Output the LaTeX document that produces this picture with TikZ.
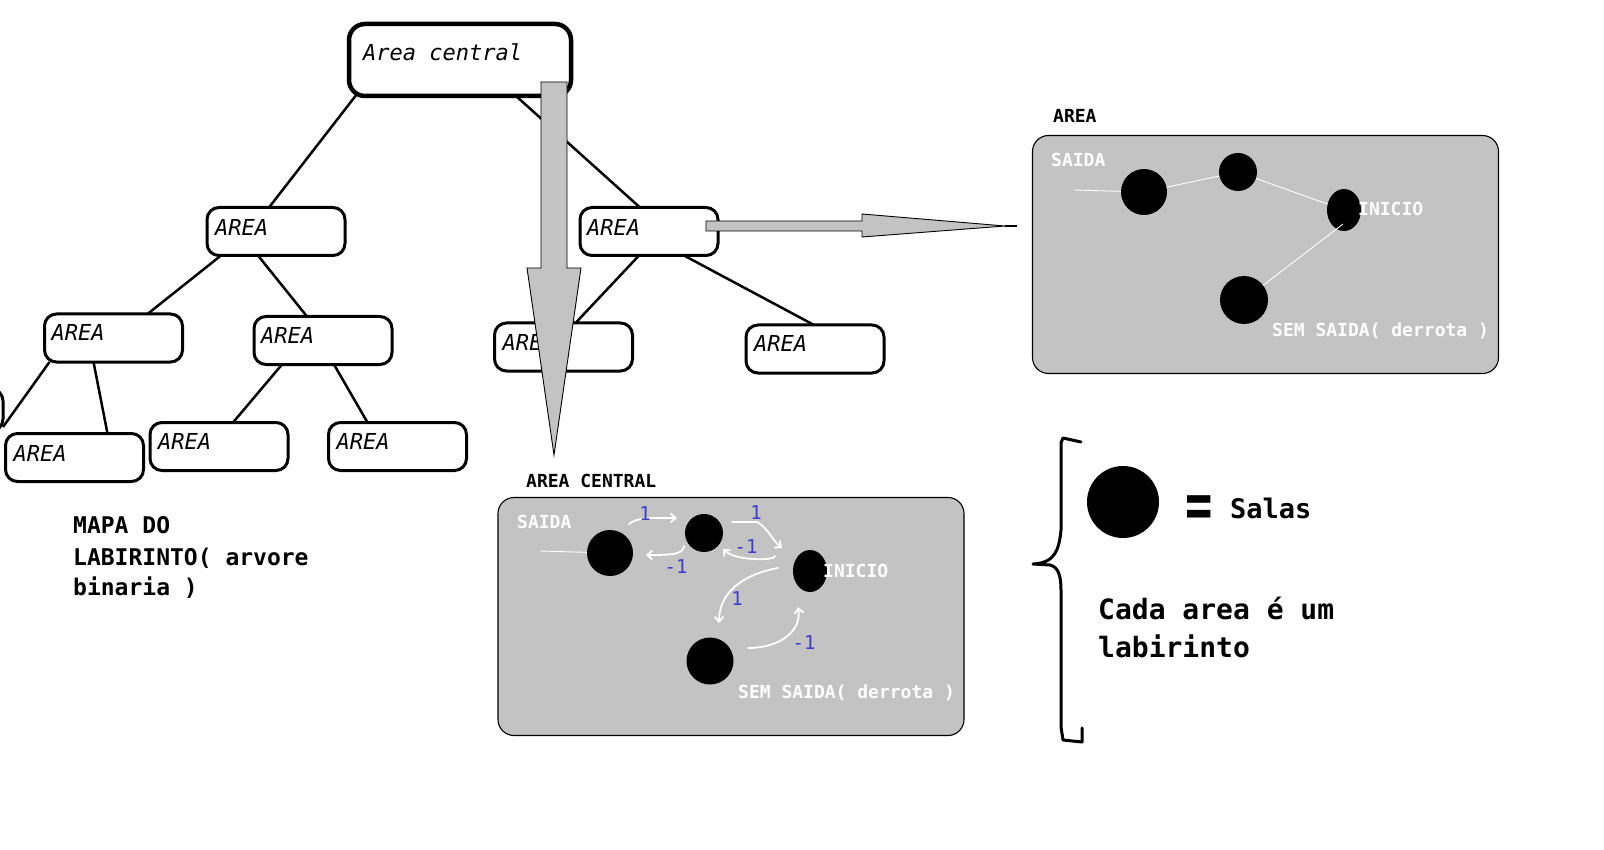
\documentclass[tikz,border=0pt]{standalone}
\usepackage{fontspec}
\newfontfamily\dmono{DejaVu Sans Mono}
\newfontfamily\dsans{DejaVu Sans}
\usetikzlibrary{calc,arrows.meta,shapes.geometric}
\definecolor{panelgray}{RGB}{195,195,195}
\definecolor{numblue}{RGB}{60,60,205}
\begin{document}
\begin{tikzpicture}[x=1pt,y=-1pt,
  treebox/.style={draw, line width=3pt, rounded corners=12pt, fill=white, minimum width=138pt, minimum height=48pt, inner sep=0pt, outer sep=0pt},
  boxtext/.style={font=\dmono\itshape\fontsize{22}{26}\selectfont, anchor=base west, inner sep=0pt},
  treeline/.style={line width=2.5pt},
  panel/.style={draw, line width=1.1pt, fill=panelgray, rounded corners=16pt, minimum width=466pt, minimum height=238pt, inner sep=0pt},
  paneltitle/.style={font=\dmono\bfseries\fontsize{18}{22}\selectfont, anchor=base west, inner sep=0pt},
  whitetext/.style={font=\dmono\bfseries\fontsize{18}{22}\selectfont, text=white, anchor=base west, inner sep=0pt},
  room/.style={circle, fill=black, inner sep=0pt, minimum size=#1},
  startroom/.style={ellipse, fill=black, inner sep=0pt, minimum width=34pt, minimum height=42pt},
  wline/.style={draw=white, line width=0.9pt},
  warrow/.style={draw=white, line width=1.8pt, line cap=round, -{Straight Barb[length=5pt,width=9pt]}},
  num/.style={font=\dmono\fontsize{19}{22}\selectfont, text=numblue, inner sep=0pt},
  bigtext/.style={font=\dmono\bfseries\fontsize{23}{30}\selectfont, anchor=base west, inner sep=0pt},
  grayarrow/.style={draw=black, line width=0.9pt, fill=panelgray, line join=miter}
]
\useasboundingbox (0,0) rectangle (1604,850);
\clip (0,0) rectangle (1604,850);

% ---------- tree nodes ----------
\node[treebox, minimum width=222pt, minimum height=72pt, line width=4.5pt, rounded corners=16pt] (ac) at (460,60) {};
\node[treebox] (b1) at (276,231.5) {};
\node[treebox] (b2) at (649,231.5) {};
\node[treebox] (c1) at (113.5,338) {};
\node[treebox] (c2) at (323,340.5) {};
\node[treebox] (c3) at (563.5,347) {};
\node[treebox] (c4) at (815,349) {};
\node[treebox, minimum height=42pt] (d0) at (-66,410) {};
\node[treebox] (d1) at (74.5,457.5) {};
\node[treebox] (d2) at (219,446.5) {};
\node[treebox] (d3) at (397.5,446.5) {};

% ---------- tree connectors ----------
\draw[treeline] ([xshift=8pt,yshift=2pt]ac.south west) -- ([xshift=62pt]b1.north west);
\draw[treeline] ([xshift=167pt]ac.south west) -- ([xshift=60pt]b2.north west);
\draw[treeline] ([xshift=14pt]b1.south west) -- ([xshift=103pt]c1.north west);
\draw[treeline] ([xshift=51pt]b1.south west) -- ([xshift=53pt]c2.north west);
\draw[treeline] ([xshift=59pt]b2.south west) -- ([xshift=81pt]c3.north west);
\draw[treeline] ([xshift=104pt]b2.south west) -- ([xshift=68pt]c4.north west);
\draw[treeline] ([xshift=5pt]c1.south west) -- ([yshift=-17pt]d0.east);
\draw[treeline] ([xshift=49pt]c1.south west) -- ([xshift=102pt]d1.north west);
\draw[treeline] ([xshift=28pt]c2.south west) -- ([xshift=83pt]d2.north west);
\draw[treeline] ([xshift=80pt]c2.south west) -- ([xshift=39pt]d3.north west);

% ---------- tree labels ----------
\node[boxtext] (tac) at ([xshift=14pt,yshift=-37pt]ac.north west) {Area central};
\node[boxtext] (tb1) at ([xshift=8pt,yshift=-28pt]b1.north west) {AREA};
\node[boxtext] (tb2) at ([xshift=7pt,yshift=-28pt]b2.north west) {AREA};
\node[boxtext] (tc1) at ([xshift=7pt,yshift=-27pt]c1.north west) {AREA};
\node[boxtext] (tc2) at ([xshift=7pt,yshift=-27pt]c2.north west) {AREA};
\node[boxtext] (tc3) at ([xshift=8pt,yshift=-27pt]c3.north west) {AREA};
\node[boxtext] (tc4) at ([xshift=8pt,yshift=-27pt]c4.north west) {AREA};
\node[boxtext] (td1) at ([xshift=8pt,yshift=-28pt]d1.north west) {AREA};
\node[boxtext] (td2) at ([xshift=8pt,yshift=-27pt]d2.north west) {AREA};
\node[boxtext] (td3) at ([xshift=8pt,yshift=-27pt]d3.north west) {AREA};

% ---------- big gray arrows ----------
\coordinate (vtop) at (554,82);
\coordinate (vtip) at (554,455);
\draw[grayarrow] ($(vtop)+(-13,0)$) -- ($(vtop)+(13,0)$) -- (567,268) -- (581,268) -- (vtip) -- (527,268) -- (541,268) -- cycle;
\coordinate (hstart) at (706,226);
\coordinate (htip) at (1005,226);
\coordinate (hend) at (1017,226);
\draw[grayarrow] ($(hstart)+(0,-5)$) -- (862,221) -- (862,214) -- (htip) -- (862,237) -- (862,231) -- ($(hstart)+(0,5)$) -- cycle;
\draw[line width=1.2pt] (htip) -- (hend);

% ---------- top-right panel ----------
\node[paneltitle] (ptitle1) at (1053,123) {AREA};
\node[panel] (p1) at (1265.5,254.5) {};
\node[whitetext] (sa1) at (1051,167) {SAIDA};
\node[room=46pt] (q1) at (1144,192) {};
\node[room=38pt] (q2) at (1238,172) {};
\node[startroom] (q3) at (1344,210) {};
\node[room=48pt] (q4) at (1244,300) {};
\coordinate (e1) at (1074,190);
\draw[wline] (e1) -- (q1);
\draw[wline] (q1) -- (q2);
\draw[wline] (q2) -- (q3);
\draw[wline] ($(q3)+(-1,14)$) -- (q4);
\node[whitetext] (in1) at (1358,216) {INICIO};
\node[whitetext] (ss1) at (1272,337) {SEM SAIDA( derrota )};

% ---------- bottom panel ----------
\node[paneltitle] (ptitle2) at (526,487) {AREA CENTRAL};
\node[panel] (p2) at (731,616.5) {};
\node[whitetext] (sa2) at (517,528) {SAIDA};
\node[room=46pt] (s1) at (610,553) {};
\node[room=38pt] (s2) at (704,533) {};
\node[startroom] (s3) at (810,571) {};
\node[room=47pt] (s4) at (710,661) {};
\coordinate (e2) at (540,551);
\draw[wline] (e2) -- (s1);
\node[whitetext] (in2) at (823,577) {INICIO};
\node[whitetext] (ss2) at (738,698) {SEM SAIDA( derrota )};

\draw[warrow] ($(s1)+(19,-29)$) .. controls ($(s1)+(28,-36)$) and ($(s1)+(40,-35)$) .. ($(s1)+(67,-35)$);
\draw[warrow] ($(s2)+(-20,13)$) .. controls ($(s2)+(-21,21)$) and ($(s2)+(-30,22)$) .. ($(s2)+(-58,22)$);
\draw[warrow] ($(s2)+(28,-11)$) -- ($(s2)+(53,-11)$) .. controls ($(s2)+(64,-5)$) and ($(s2)+(68,7)$) .. ($(s2)+(78,15)$);
\draw[warrow] ($(s3)+(-35,-15)$) .. controls ($(s3)+(-35,-10)$) and ($(s3)+(-75,-10)$) .. ($(s3)+(-87,-22)$);
\draw[warrow] ($(s3)+(-32,-3)$) .. controls ($(s3)+(-65,3)$) and ($(s3)+(-91,20)$) .. ($(s4)+(9,-38)$);
\draw[warrow] ($(s4)+(38,-13)$) .. controls ($(s4)+(70,-13)$) and ($(s4)+(92,-30)$) .. ($(s3)+(-12,36)$);

\node[num] (n1) at (645,514) {1};
\node[num] (n2) at (676,567) {-1};
\node[num] (n3) at (756,513) {1};
\node[num] (n4) at (746,547) {-1};
\node[num] (n5) at (737,599) {1};
\node[num] (n6) at (804,643) {-1};

% ---------- legend ----------
\draw[line width=3pt, line join=round, line cap=round] (1081,442) -- (1063,438) -- (1061,443) -- (1061,530) .. controls (1059,550) and (1055,563) .. (1033,564) -- (1050,565) .. controls (1058,567) and (1061,575) .. (1061,590) -- (1061,727) -- (1063,740) -- (1082,742) -- (1082,728);
\node[circle, fill=black, inner sep=0pt, minimum width=72pt, minimum height=69pt] (leg) at (1123,502) {};
\node[font=\dsans\bfseries\fontsize{44}{44}\selectfont, inner sep=0pt, yscale=1.5, xscale=0.85] (eq) at (1199,512) {=};
\node[font=\dmono\bfseries\fontsize{27}{32}\selectfont, anchor=base west, inner sep=0pt] (salas) at (1230,518) {Salas};
\node[font=\dmono\bfseries\fontsize{28}{38}\selectfont, anchor=base west, inner sep=0pt, align=left] (cada) at (1098,619) {Cada area é um};
\node[font=\dmono\bfseries\fontsize{28}{38}\selectfont, anchor=base west, inner sep=0pt] (lab) at (1098,657) {labirinto};

% ---------- map caption ----------
\node[bigtext] (m1) at (73,533) {MAPA DO};
\node[bigtext] (m2) at (73,565) {LABIRINTO( arvore};
\node[bigtext] (m3) at (73,595) {binaria )};
\end{tikzpicture}
\end{document}
